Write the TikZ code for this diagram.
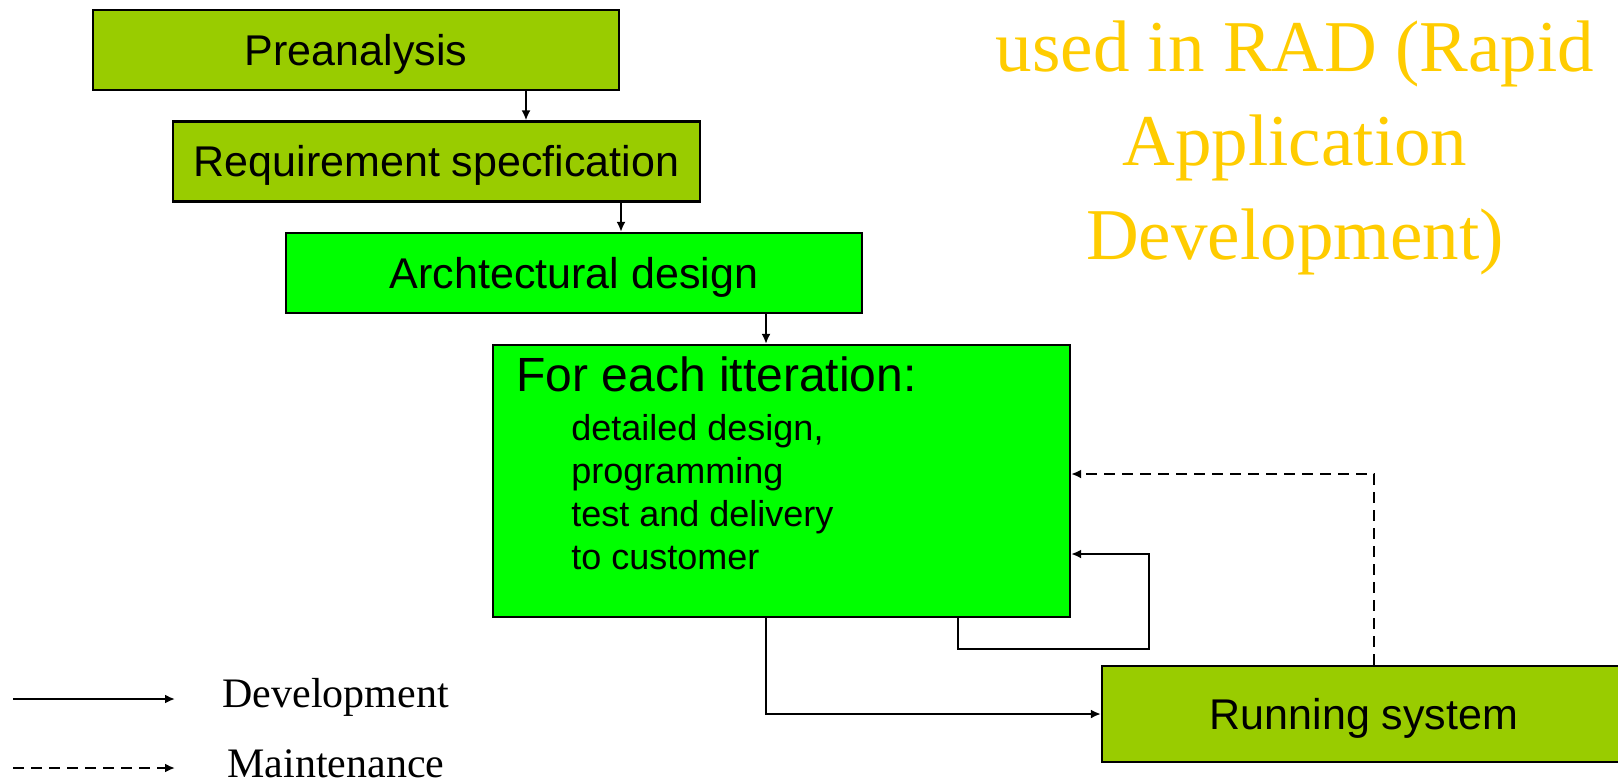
\documentclass[tikz,border=0pt]{standalone}
\usepackage{fontspec}
\setmainfont{Liberation Serif}
\setsansfont{Liberation Sans}
\usetikzlibrary{arrows.meta}

\definecolor{phaseolive}{HTML}{99CC00}
\definecolor{phasegreen}{HTML}{00FF00}
\definecolor{titlegold}{HTML}{FFCC00}

\tikzset{
  phase/.style={draw=black, line width=1.2pt, fill=phaseolive, minimum height=40pt,
    inner sep=0pt, text height=15pt, text depth=0pt,
    font=\sffamily\fontsize{21.5}{24}\selectfont},
  flow/.style={line width=0.9pt, -{Latex[length=5pt,width=4.5pt]}},
  back/.style={flow, dash pattern=on 5.5pt off 3.5pt},
}

\begin{document}
\begin{tikzpicture}[x=0.5pt,y=-0.5pt]
\useasboundingbox (0,0) rectangle (1618,783);
% phases
\node[phase, minimum width=263pt] (pre) at (356,50) {Preanalysis};
\node[phase, minimum width=263.5pt] (req) at (436.5,161.5) {Requirement specfication};
\node[phase, fill=phasegreen, minimum width=288pt] (arch) at (574,273) {Archtectural design};
\node[phase, fill=phasegreen, minimum width=288.5pt, minimum height=136pt] (iter) at (781.5,481) {};
\node[anchor=north west, align=left, inner sep=0pt, font=\sffamily\fontsize{18}{21.5}\selectfont] (itertext) at (516,356)
  {{\fontsize{24}{28}\selectfont For each itteration:}\\[3pt]
   \hspace*{27.5pt}detailed design,\\
   \hspace*{27.5pt}programming\\
   \hspace*{27.5pt}test and delivery\\
   \hspace*{27.5pt}to customer};
\node[phase, minimum width=262pt, minimum height=48pt] (run) at (1364,714) {Running system};
\node[anchor=north, align=center, text=titlegold, font=\fontsize{36.5}{47}\selectfont] (rad) at (1295,14)
  {used in RAD (Rapid\\Application\\Development)};
% legend
\coordinate (dev0) at (13,699);
\coordinate (dev1) at (175,699);
\coordinate (mnt0) at (13,768);
\coordinate (mnt1) at (175,768);
\node[anchor=west, inner sep=0pt, font=\fontsize{21}{24}\selectfont] (devtext) at (222,697) {Development};
\node[anchor=west, inner sep=0pt, font=\fontsize{21}{24}\selectfont] (mnttext) at (227,764) {Maintenance};
\draw[flow, line width=1.2pt] (dev0) -- (dev1);
\draw[back, line width=1.2pt] (mnt0) -- (mnt1);
% connectors
\coordinate (c1) at (526,0);
\coordinate (c2) at (621,0);
\coordinate (c3) at (766,0);
\coordinate (c4) at (958,0);
\coordinate (loop) at (1149,649);
\coordinate (loopin) at (0,554);
\coordinate (fb) at (1374,474);
\draw[flow] (pre.south -| c1) -- (req.north -| c1);
\draw[flow] (req.south -| c2) -- (arch.north -| c2);
\draw[flow] (arch.south -| c3) -- (iter.north -| c3);
\draw[flow] (iter.south -| c3) |- (run.west);
\draw[flow] (iter.south -| c4) |- (loop) |- (iter.east |- loopin);
\draw[back] (run.north -| fb) |- (iter.east |- fb);
\end{tikzpicture}
\end{document}
